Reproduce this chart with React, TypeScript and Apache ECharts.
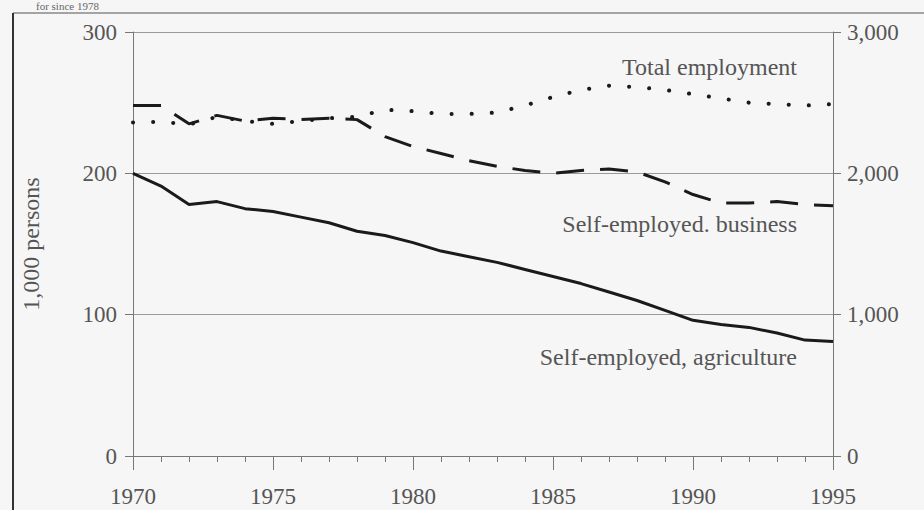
import React, { useEffect, useRef } from "react";
import * as echarts from "echarts";

const years = [1970,1971,1972,1973,1974,1975,1976,1977,1978,1979,1980,1981,1982,1983,1984,1985,1986,1987,1988,1989,1990,1991,1992,1993,1994,1995];
const agriculture = [200,191,178,180,175,173,169,165,159,156,151,145,141,137,132,127,122,116,110,103,96,93,91,87,82,81];
const business = [248,248,235,241,237,239,238,239,238,226,219,214,209,205,202,200,202,203,201,194,185,179,179,180,178,177];
const totalEmployment = [2360,2365,2345,2400,2370,2350,2370,2390,2400,2450,2440,2420,2420,2430,2480,2540,2590,2620,2610,2590,2560,2530,2500,2490,2480,2490];
const leftTicks = [0, 100, 200, 300];
const rightTicks = [0, 1000, 2000, 3000];

const FONT = "'Liberation Serif', 'DejaVu Serif', serif";
const TXT = "#555";
const AX = "#777";

export default function App() {
  const ref = useRef<HTMLDivElement>(null);
  useEffect(() => {
    document.body.style.margin = "0";
    const chart = echarts.init(ref.current!, null, { renderer: "svg" });
    const zip = (vals: number[]) => years.map((y, i) => [y, vals[i]]);
    chart.setOption({
      animation: false,
      backgroundColor: "#f6f6f6",
      grid: { left: 133, right: 91, top: 32, bottom: 54 },
      xAxis: {
        type: "value",
        min: 1970,
        max: 1995,
        interval: 5,
        axisLine: { lineStyle: { color: AX, width: 1 } },
        axisTick: { show: true, inside: false, length: 14, lineStyle: { color: AX } },
        minorTick: { show: true, splitNumber: 5, length: 6, lineStyle: { color: AX } },
        splitLine: { show: false },
        axisLabel: { color: TXT, fontFamily: FONT, fontSize: 23, margin: 29, formatter: (v: number) => String(v) },
      },
      yAxis: [
        {
          type: "value",
          min: leftTicks[0],
          max: leftTicks[leftTicks.length - 1],
          interval: 100,
          name: "1,000 persons",
          nameLocation: "middle",
          nameGap: 90,
          nameRotate: 90,
          nameTextStyle: { color: TXT, fontFamily: FONT, fontSize: 24 },
          axisLine: { show: true, lineStyle: { color: AX } },
          axisTick: { show: true, length: 8, lineStyle: { color: AX } },
          splitLine: { show: true, lineStyle: { color: "#9a9a9a", width: 1 } },
          axisLabel: { color: TXT, fontFamily: FONT, fontSize: 23, margin: 16 },
        },
        {
          type: "value",
          min: rightTicks[0],
          max: rightTicks[rightTicks.length - 1],
          interval: 1000,
          position: "right",
          axisLine: { show: true, lineStyle: { color: AX } },
          axisTick: { show: true, length: 8, lineStyle: { color: AX } },
          splitLine: { show: false },
          axisLabel: {
            color: TXT, fontFamily: FONT, fontSize: 23, margin: 14,
            formatter: (v: number) => v.toLocaleString("en-US"),
          },
        },
      ],
      series: [
        {
          name: "Self-employed, agriculture",
          type: "line",
          yAxisIndex: 0,
          data: zip(agriculture),
          symbol: "none",
          lineStyle: { color: "#1a1a1a", width: 3 },
        },
        {
          name: "Self-employed, business",
          type: "line",
          yAxisIndex: 0,
          data: zip(business),
          symbol: "none",
          lineStyle: { color: "#1a1a1a", width: 3, type: [28, 16] },
        },
        {
          name: "Total employment",
          type: "line",
          yAxisIndex: 1,
          data: zip(totalEmployment),
          symbol: "none",
          lineStyle: { color: "#1a1a1a", width: 4, type: [0.1, 20], cap: "round" },
        },
      ],
      graphic: [
        { type: "line", shape: { x1: 13, y1: 13, x2: 924, y2: 13 }, style: { stroke: "#888", lineWidth: 1.5 } },
        { type: "line", shape: { x1: 13, y1: 13, x2: 13, y2: 510 }, style: { stroke: "#333", lineWidth: 2 } },
        { type: "text", x: 36, y: 0, style: { text: "for since 1978", font: `11px ${FONT}`, fill: "#666" } },
        { type: "text", x: 797, y: 67, style: { text: "Total employment", font: `24px ${FONT}`, fill: TXT, align: "right", verticalAlign: "middle" } },
        { type: "text", x: 797, y: 224, style: { text: "Self-employed. business", font: `24px ${FONT}`, fill: TXT, align: "right", verticalAlign: "middle" } },
        { type: "text", x: 797, y: 357, style: { text: "Self-employed, agriculture", font: `24px ${FONT}`, fill: TXT, align: "right", verticalAlign: "middle" } },
      ],
    });
    return () => chart.dispose();
  }, []);
  return <div ref={ref} style={{ width: 924, height: 510 }} />;
}
